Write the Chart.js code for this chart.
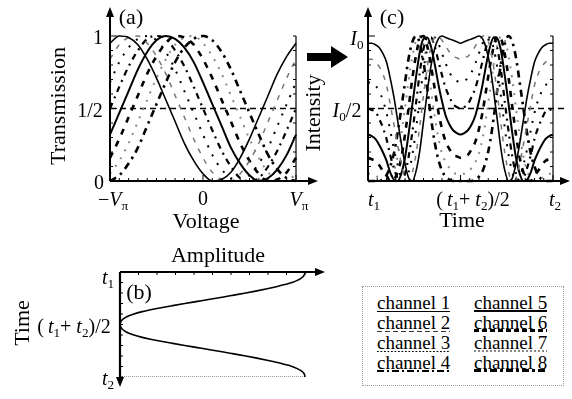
<!DOCTYPE html>
<html lang="en">
<head>
<meta charset="UTF-8">
<title>Channel transmission and intensity</title>
<script src="https://cdn.jsdelivr.net/npm/chart.js@4"></script>
<style>
  body { margin: 0; background: #fff; }
  #wrap { position: relative; width: 572px; height: 399px; overflow: hidden; font-family: "Liberation Serif", "Times New Roman", "DejaVu Serif", serif; color: #000; }
  canvas { position: absolute; }
  .lbl { position: absolute; transform: translate(-50%, -50%); line-height: 1; white-space: nowrap; font-size: 20px; font-family: "Liberation Serif", "Times New Roman", serif; }
  .big { font-size: 22px; }
  .rot { transform: translate(-50%, -50%) rotate(-90deg); }
  .lbl sub { font-size: 0.66em; vertical-align: baseline; position: relative; top: 0.32em; }
  #legend { position: absolute; left: 362px; top: 286px; width: 202px; height: 100px; border: 1.5px dotted #999; box-sizing: border-box; }
  .ch { position: absolute; font-size: 19px; line-height: 1; background-repeat: repeat-x; background-position: left bottom; white-space: nowrap; font-family: "Liberation Serif", "Times New Roman", serif; }
  .u1 { background-image: linear-gradient(#000, #000); background-size: 100% 1.5px; }
  .u2 { background-image: linear-gradient(to right, #333 0 5px, transparent 5px 8px); background-size: 8px 1.5px; }
  .u3 { background-image: linear-gradient(to right, #000 0 1.5px, transparent 1.5px 3.5px); background-size: 3.5px 1.5px; }
  .u4 { background-image: linear-gradient(to right, #000 0 7px, transparent 7px 10px, #000 10px 12px, transparent 12px 15px); background-size: 15px 2.5px; }
  .u5 { background-image: linear-gradient(#000, #000); background-size: 100% 2.5px; }
  .u6 { background-image: linear-gradient(to right, #000 0 5px, transparent 5px 8px); background-size: 8px 3px; }
  .u7 { background-image: linear-gradient(to right, #888 0 2px, transparent 2px 4px); background-size: 4px 2px; }
  .u8 { background-image: linear-gradient(to right, #000 0 7px, transparent 7px 10px, #000 10px 13px, transparent 13px 16px); background-size: 16px 3px; }
</style>
</head>
<body>
<div id="wrap">
  <canvas id="chartA" width="325" height="240" style="left:0;top:0"></canvas>
  <canvas id="chartC" width="272" height="240" style="left:300px;top:0"></canvas>
  <canvas id="chartB" width="340" height="159" style="left:0;top:240px"></canvas>

  <!-- panel (a) labels -->
  <div class="lbl big" style="left:131px;top:17px">(a)</div>
  <div class="lbl" style="left:98px;top:37px">1</div>
  <div class="lbl" style="left:90px;top:110px">1/2</div>
  <div class="lbl" style="left:99px;top:182px">0</div>
  <div class="lbl big rot" style="left:58px;top:106px">Transmission</div>
  <div class="lbl" style="left:113px;top:199px">&minus;<i>V</i><sub>π</sub></div>
  <div class="lbl" style="left:203px;top:198px">0</div>
  <div class="lbl" style="left:299px;top:199px"><i>V</i><sub>π</sub></div>
  <div class="lbl big" style="left:206px;top:221px">Voltage</div>

  <!-- panel (c) labels -->
  <div class="lbl big" style="left:392px;top:17px">(c)</div>
  <div class="lbl" style="left:357px;top:38px"><i>I</i><sub>0</sub></div>
  <div class="lbl" style="left:347px;top:110px"><i>I</i><sub>0</sub>/2</div>
  <div class="lbl big rot" style="left:313px;top:113px">Intensity</div>
  <div class="lbl" style="left:374px;top:199px"><i>t</i><sub>1</sub></div>
  <div class="lbl" style="left:473px;top:199px">(&thinsp;<i>t</i><sub>1</sub>+ <i>t</i><sub>2</sub>)/2</div>
  <div class="lbl" style="left:555px;top:199px"><i>t</i><sub>2</sub></div>
  <div class="lbl big" style="left:462px;top:220px">Time</div>

  <!-- panel (b) labels -->
  <div class="lbl big" style="left:218px;top:255px">Amplitude</div>
  <div class="lbl" style="left:108px;top:277px"><i>t</i><sub>1</sub></div>
  <div class="lbl" style="left:74px;top:326px">(&thinsp;<i>t</i><sub>1</sub>+ <i>t</i><sub>2</sub>)/2</div>
  <div class="lbl" style="left:108px;top:378px"><i>t</i><sub>2</sub></div>
  <div class="lbl big rot" style="left:22px;top:323px">Time</div>
  <div class="lbl big" style="left:139px;top:292px">(b)</div>

  <!-- legend -->
  <div id="legend"></div>
  <div class="ch u1" style="left:377px;top:293px">channel 1</div>
  <div class="ch u2" style="left:377px;top:313px">channel 2</div>
  <div class="ch u3" style="left:377px;top:333px">channel 3</div>
  <div class="ch u4" style="left:377px;top:353px">channel 4</div>
  <div class="ch u5" style="left:474px;top:293px">channel 5</div>
  <div class="ch u6" style="left:474px;top:313px">channel 6</div>
  <div class="ch u7" style="left:474px;top:333px">channel 7</div>
  <div class="ch u8" style="left:474px;top:353px">channel 8</div>
</div>

<script>
// (a) transmission vs voltage (in units of V_pi)
const voltage = [-1, -0.9, -0.8, -0.7, -0.6, -0.5, -0.4, -0.3, -0.2, -0.1, 0, 0.1, 0.2, 0.3, 0.4, 0.5, 0.6, 0.7, 0.8, 0.9, 1];
const transCh1 = [0.95, 1.00, 0.99, 0.94, 0.84, 0.71, 0.56, 0.41, 0.26, 0.14, 0.05, 0.00, 0.01, 0.06, 0.16, 0.29, 0.44, 0.59, 0.74, 0.86, 0.95];
const transCh2 = [0.84, 0.94, 0.99, 1.00, 0.95, 0.86, 0.74, 0.59, 0.44, 0.29, 0.16, 0.06, 0.01, 0.00, 0.05, 0.14, 0.26, 0.41, 0.56, 0.71, 0.84];
const transCh3 = [0.68, 0.82, 0.92, 0.98, 1.00, 0.97, 0.89, 0.77, 0.62, 0.47, 0.32, 0.18, 0.08, 0.02, 0.00, 0.04, 0.12, 0.23, 0.38, 0.53, 0.68];
const transCh4 = [0.50, 0.65, 0.79, 0.90, 0.98, 1.00, 0.98, 0.90, 0.79, 0.65, 0.50, 0.35, 0.21, 0.10, 0.02, 0.00, 0.02, 0.10, 0.21, 0.35, 0.50];
const transCh5 = [0.32, 0.47, 0.62, 0.77, 0.89, 0.97, 1.00, 0.98, 0.92, 0.82, 0.68, 0.53, 0.38, 0.23, 0.12, 0.04, 0.00, 0.02, 0.08, 0.18, 0.32];
const transCh6 = [0.16, 0.29, 0.44, 0.59, 0.74, 0.86, 0.95, 1.00, 0.99, 0.94, 0.84, 0.71, 0.56, 0.41, 0.26, 0.14, 0.05, 0.00, 0.01, 0.06, 0.16];
const transCh7 = [0.05, 0.14, 0.26, 0.41, 0.56, 0.71, 0.84, 0.94, 0.99, 1.00, 0.95, 0.86, 0.74, 0.59, 0.44, 0.29, 0.16, 0.06, 0.01, 0.00, 0.05];
const transCh8 = [0.00, 0.04, 0.12, 0.23, 0.38, 0.53, 0.68, 0.82, 0.92, 0.98, 1.00, 0.97, 0.89, 0.77, 0.62, 0.47, 0.32, 0.18, 0.08, 0.02, 0.00];

// (c) intensity vs time, t1 -> t2 mapped to 0..1
const time = [0, 0.02, 0.04, 0.06, 0.08, 0.1, 0.12, 0.14, 0.16, 0.18, 0.2, 0.22, 0.24, 0.26, 0.28, 0.3, 0.32, 0.34, 0.36, 0.38, 0.4, 0.42, 0.44, 0.46, 0.48, 0.5,
  0.52, 0.54, 0.56, 0.58, 0.6, 0.62, 0.64, 0.66, 0.68, 0.7, 0.72, 0.74, 0.76, 0.78, 0.8, 0.82, 0.84, 0.86, 0.88, 0.9, 0.92, 0.94, 0.96, 0.98, 1];
const intenCh1 = [0.95, 0.95, 0.94, 0.92, 0.88, 0.82, 0.71, 0.58, 0.42, 0.26, 0.12, 0.02, 0.00, 0.07, 0.21, 0.41, 0.61, 0.79, 0.91, 0.98, 1.00, 0.99, 0.98, 0.97, 0.96, 0.95,
  0.96, 0.97, 0.98, 0.99, 1.00, 0.98, 0.91, 0.79, 0.61, 0.41, 0.21, 0.07, 0.00, 0.02, 0.12, 0.26, 0.42, 0.58, 0.71, 0.82, 0.88, 0.92, 0.94, 0.95, 0.95];
const intenCh2 = [0.84, 0.84, 0.82, 0.79, 0.74, 0.66, 0.53, 0.39, 0.25, 0.12, 0.02, 0.00, 0.06, 0.19, 0.38, 0.59, 0.78, 0.92, 0.99, 1.00, 0.97, 0.93, 0.89, 0.86, 0.85, 0.84,
  0.85, 0.86, 0.89, 0.93, 0.97, 1.00, 0.99, 0.92, 0.78, 0.59, 0.38, 0.19, 0.06, 0.00, 0.02, 0.12, 0.25, 0.39, 0.53, 0.66, 0.74, 0.79, 0.82, 0.84, 0.84];
const intenCh3 = [0.68, 0.68, 0.66, 0.62, 0.56, 0.47, 0.35, 0.22, 0.11, 0.02, 0.00, 0.06, 0.18, 0.36, 0.57, 0.77, 0.91, 0.99, 0.99, 0.95, 0.88, 0.81, 0.75, 0.71, 0.69, 0.68,
  0.69, 0.71, 0.75, 0.81, 0.88, 0.95, 0.99, 0.99, 0.91, 0.77, 0.57, 0.36, 0.18, 0.06, 0.00, 0.02, 0.11, 0.22, 0.35, 0.47, 0.56, 0.62, 0.66, 0.68, 0.68];
const intenCh4 = [0.50, 0.49, 0.48, 0.43, 0.37, 0.29, 0.18, 0.09, 0.02, 0.00, 0.05, 0.17, 0.34, 0.54, 0.75, 0.91, 0.99, 0.99, 0.93, 0.83, 0.73, 0.64, 0.58, 0.53, 0.51, 0.50,
  0.51, 0.53, 0.58, 0.64, 0.73, 0.83, 0.93, 0.99, 0.99, 0.91, 0.75, 0.54, 0.34, 0.17, 0.05, 0.00, 0.02, 0.09, 0.18, 0.29, 0.37, 0.43, 0.48, 0.49, 0.50];
const intenCh5 = [0.32, 0.31, 0.29, 0.25, 0.20, 0.14, 0.06, 0.01, 0.00, 0.05, 0.16, 0.33, 0.53, 0.72, 0.89, 0.98, 0.99, 0.93, 0.81, 0.67, 0.55, 0.45, 0.39, 0.35, 0.33, 0.32,
  0.33, 0.35, 0.39, 0.45, 0.55, 0.67, 0.81, 0.93, 0.99, 0.98, 0.89, 0.72, 0.53, 0.33, 0.16, 0.05, 0.00, 0.01, 0.06, 0.14, 0.20, 0.25, 0.29, 0.31, 0.32];
const intenCh6 = [0.16, 0.15, 0.14, 0.11, 0.07, 0.04, 0.00, 0.01, 0.06, 0.16, 0.32, 0.51, 0.71, 0.87, 0.98, 1.00, 0.93, 0.80, 0.64, 0.48, 0.36, 0.27, 0.22, 0.18, 0.17, 0.16,
  0.17, 0.18, 0.22, 0.27, 0.36, 0.48, 0.64, 0.80, 0.93, 1.00, 0.98, 0.87, 0.71, 0.51, 0.32, 0.16, 0.06, 0.01, 0.00, 0.04, 0.07, 0.11, 0.14, 0.15, 0.16];
const intenCh7 = [0.05, 0.05, 0.04, 0.02, 0.01, 0.00, 0.02, 0.07, 0.17, 0.32, 0.50, 0.70, 0.86, 0.97, 1.00, 0.94, 0.81, 0.63, 0.45, 0.30, 0.19, 0.13, 0.09, 0.06, 0.05, 0.05,
  0.05, 0.06, 0.09, 0.13, 0.19, 0.30, 0.45, 0.63, 0.81, 0.94, 1.00, 0.97, 0.86, 0.70, 0.50, 0.32, 0.17, 0.07, 0.02, 0.00, 0.01, 0.02, 0.04, 0.05, 0.05];
const intenCh8 = [0.00, 0.00, 0.00, 0.00, 0.01, 0.04, 0.10, 0.19, 0.33, 0.50, 0.68, 0.85, 0.96, 1.00, 0.95, 0.82, 0.64, 0.44, 0.27, 0.15, 0.07, 0.03, 0.01, 0.00, 0.00, 0.00,
  0.00, 0.00, 0.00, 0.01, 0.03, 0.07, 0.15, 0.27, 0.44, 0.64, 0.82, 0.95, 1.00, 0.96, 0.85, 0.68, 0.50, 0.33, 0.19, 0.10, 0.04, 0.01, 0.00, 0.00, 0.00];

// (b) drive amplitude vs time (same time grid)
const amplitude = [1.000, 0.998, 0.992, 0.978, 0.958, 0.930, 0.890, 0.845, 0.795, 0.740, 0.680, 0.616, 0.552, 0.486, 0.418, 0.350, 0.285, 0.222, 0.165, 0.115, 0.075, 0.045, 0.024, 0.010, 0.003, 0.000,
  0.003, 0.010, 0.024, 0.045, 0.075, 0.115, 0.165, 0.222, 0.285, 0.350, 0.418, 0.486, 0.552, 0.616, 0.680, 0.740, 0.795, 0.845, 0.890, 0.930, 0.958, 0.978, 0.992, 0.998, 1.000];

// half-level reference line
const halfLevel = 0.5;
const halfSpanA = [-1, 1.01];
const halfSpanC = [0, 1.06];
const endSpanB = [0, 1];

// line styles per channel (sparse dashes, like the scan)
const chStyles = [
  { c: '#000', w: 1.6, d: [] },
  { c: '#777', w: 1.5, d: [5, 7] },
  { c: '#000', w: 2.0, d: [2, 8] },
  { c: '#000', w: 2.2, d: [6, 5, 2, 5] },
  { c: '#000', w: 2.0, d: [] },
  { c: '#000', w: 2.6, d: [6, 7] },
  { c: '#888', w: 2.0, d: [2, 7] },
  { c: '#000', w: 2.6, d: [7, 5, 2.5, 5] }
];

const transSeries = [transCh1, transCh2, transCh3, transCh4, transCh5, transCh6, transCh7, transCh8];
const intenSeries = [intenCh1, intenCh2, intenCh3, intenCh4, intenCh5, intenCh6, intenCh7, intenCh8];

function seg(ctx, x1, y1, x2, y2) {
  ctx.beginPath(); ctx.moveTo(x1, y1); ctx.lineTo(x2, y2); ctx.stroke();
}
// filled arrow head, tip at (x, y)
function head(ctx, x, y, dir) {
  const L = 10, W = 4;
  ctx.beginPath();
  ctx.moveTo(x, y);
  if (dir === 'up') { ctx.lineTo(x - W, y + L); ctx.lineTo(x + W, y + L); }
  if (dir === 'down') { ctx.lineTo(x - W, y - L); ctx.lineTo(x + W, y - L); }
  if (dir === 'right') { ctx.lineTo(x - L, y - W); ctx.lineTo(x - L, y + W); }
  ctx.closePath(); ctx.fill();
}

function channelSets(xs, series) {
  return series.map((ys, k) => ({
    data: xs.map((x, i) => ({ x: x, y: ys[i] })),
    borderColor: chStyles[k].c,
    borderWidth: chStyles[k].w,
    borderDash: chStyles[k].d,
    pointRadius: 0,
    fill: false,
    clip: 6,
    cubicInterpolationMode: 'monotone'
  }));
}

function halfLine(span) {
  return {
    data: span.map(x => ({ x: x, y: halfLevel })),
    borderColor: '#000', borderWidth: 1.5, borderDash: [6, 4],
    pointRadius: 0, fill: false, clip: false, tension: 0
  };
}

function baseOptions(pad, xr, yr) {
  return {
    responsive: false,
    animation: false,
    events: [],
    layout: { padding: pad },
    scales: {
      x: { type: 'linear', min: xr[0], max: xr[1], display: false },
      y: { type: 'linear', min: yr[0], max: yr[1], display: false }
    },
    plugins: { legend: { display: false }, tooltip: { enabled: false } }
  };
}

// axes with arrows and small inward ticks for (a) and (c)
function frameDecor(id, xTip, drawBigArrow) {
  return {
    id: id,
    afterDatasetsDraw(chart) {
      const { ctx, chartArea: a, scales: { x, y } } = chart;
      ctx.save();
      ctx.strokeStyle = '#000'; ctx.fillStyle = '#000';
      ctx.lineWidth = 2;
      seg(ctx, a.left, a.bottom, a.left, 16); head(ctx, a.left, 7, 'up');
      seg(ctx, a.left, a.bottom, xTip - 8, a.bottom); head(ctx, xTip, a.bottom, 'right');
      ctx.lineWidth = 1.2;
      seg(ctx, a.right, a.top, a.right, a.bottom);
      ctx.lineWidth = 1;
      const xMin = x.min, xStep = (x.max - x.min) / 20;
      for (let i = 0; i <= 20; i++) {
        const px = x.getPixelForValue(xMin + i * xStep);
        seg(ctx, px, a.bottom, px, a.bottom - (i % 10 === 0 ? 6 : 3));
      }
      for (let i = 0; i <= 10; i++) {
        const py = y.getPixelForValue(i * 0.1);
        seg(ctx, a.left, py, a.left + (i % 5 === 0 ? 7 : 3), py);
        seg(ctx, a.right, py, a.right - 3, py);
      }
      if (drawBigArrow) {
        ctx.fillRect(7, 53, 27, 8);
        ctx.beginPath(); ctx.moveTo(31, 46); ctx.lineTo(48, 57); ctx.lineTo(31, 68); ctx.closePath(); ctx.fill();
      }
      ctx.restore();
    }
  };
}

const decorB = {
  id: 'decorB',
  afterDatasetsDraw(chart) {
    const { ctx, chartArea: a, scales: { x, y } } = chart;
    ctx.save();
    ctx.strokeStyle = '#000'; ctx.fillStyle = '#000';
    ctx.lineWidth = 2.2;
    seg(ctx, a.left, a.top, 316, a.top); head(ctx, 325, a.top, 'right');
    seg(ctx, a.left, a.top, a.left, 138); head(ctx, a.left, 147, 'down');
    ctx.lineWidth = 1;
    for (let i = 1; i <= 10; i++) {
      const px = x.getPixelForValue(i * 0.1);
      seg(ctx, px, a.top, px, a.top + 3);
      const py = y.getPixelForValue(i * 0.1);
      seg(ctx, a.left, py, a.left + 3, py);
    }
    ctx.restore();
  }
};

// (a)
const setsA = channelSets(voltage, transSeries);
setsA.push(halfLine(halfSpanA));
new Chart(document.getElementById('chartA'), {
  type: 'line',
  data: { datasets: setsA },
  options: baseOptions({ left: 110, top: 36, right: 29, bottom: 59 }, [-1, 1], [0, 1]),
  plugins: [frameDecor('decorA', 318, false)]
});

// (c)
const setsC = channelSets(time, intenSeries);
setsC.push(halfLine(halfSpanC));
new Chart(document.getElementById('chartC'), {
  type: 'line',
  data: { datasets: setsC },
  options: baseOptions({ left: 68, top: 36, right: 19, bottom: 59 }, [0, 1], [0, 1]),
  plugins: [frameDecor('decorC', 270, true)]
});

// (b) time runs downward, amplitude along the top axis
const optsB = baseOptions({ left: 120, top: 32, right: 35, bottom: 22 }, [0, 1], [0, 1]);
optsB.indexAxis = 'y';
optsB.scales.y.reverse = true;
new Chart(document.getElementById('chartB'), {
  type: 'line',
  data: {
    datasets: [
      {
        data: time.map((t, i) => ({ x: amplitude[i], y: t })),
        borderColor: '#000', borderWidth: 1.6, pointRadius: 0, fill: false, clip: 6,
        cubicInterpolationMode: 'monotone'
      },
      {
        data: endSpanB.map(v => ({ x: v, y: 1 })),
        borderColor: '#333', borderWidth: 1, borderDash: [1, 1], pointRadius: 0, fill: false, tension: 0
      }
    ]
  },
  options: optsB,
  plugins: [decorB]
});
</script>
</body>
</html>
